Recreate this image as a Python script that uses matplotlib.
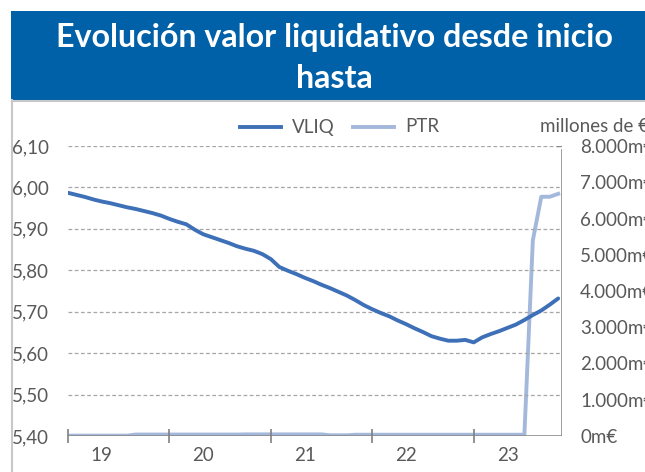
import numpy as np
import matplotlib.pyplot as plt
from matplotlib.patches import Rectangle
from matplotlib.lines import Line2D

# monthly values
vliq = [5.987, 5.982, 5.977, 5.971, 5.966, 5.962, 5.957, 5.952, 5.948, 5.943,
        5.938, 5.932, 5.924, 5.917, 5.911, 5.898, 5.887, 5.880, 5.873, 5.866,
        5.858, 5.852, 5.847, 5.839, 5.827, 5.808, 5.799, 5.791, 5.782, 5.774,
        5.765, 5.757, 5.748, 5.739, 5.728, 5.716, 5.706, 5.697, 5.689, 5.679,
        5.670, 5.660, 5.651, 5.641, 5.635, 5.630, 5.630, 5.632, 5.626, 5.638,
        5.646, 5.653, 5.661, 5.669, 5.680, 5.692, 5.703, 5.717, 5.732]
ptr = [10, 10, 10, 10, 10, 10, 10, 10, 40, 40,
       40, 40, 40, 40, 40, 40, 40, 40, 40, 40,
       40, 45, 45, 45, 45, 45, 45, 45, 45, 45,
       45, 20, 20, 20, 35, 35, 35, 35, 35, 35,
       35, 35, 35, 35, 35, 35, 35, 35, 35, 35,
       35, 35, 35, 35, 35, 5400, 6600, 6600, 6680]
years = ['19', '20', '21', '22', '23']
left_ticks = [5.40, 5.50, 5.60, 5.70, 5.80, 5.90, 6.00, 6.10]
right_ticks = [0, 1000, 2000, 3000, 4000, 5000, 6000, 7000, 8000]

months = np.arange(len(vliq))
grey = '#595959'
c_vliq = '#3E70B8'
c_ptr = '#A3B8DB'
fs = 13.5

plt.rcParams['font.family'] = ['Lato', 'DejaVu Sans']

fig = plt.figure(figsize=(6.45, 4.72), dpi=100)
W, H = 645, 472

# title banner and chart frame
fig.patches.append(Rectangle((11 / W, 1 - 100 / H), 1, 89 / H, transform=fig.transFigure,
                             facecolor='#0060A8', edgecolor='none'))
fig.add_artist(Line2D([11.5 / W, 11.5 / W], [0, 1 - 100 / H], transform=fig.transFigure,
                      color='#C8C8C8', lw=1.5))
fig.add_artist(Line2D([11.5 / W, 1], [1 - 101 / H, 1 - 101 / H], transform=fig.transFigure,
                      color='#C8C8C8', lw=1.5))
fig.text(334 / W, 1 - 37 / H, 'Evolución valor liquidativo desde inicio', color='white',
         fontsize=23.2, fontweight='bold', ha='center', va='center')
fig.text(334 / W, 1 - 78 / H, 'hasta', color='white',
         fontsize=23.2, fontweight='bold', ha='center', va='center')

ax = fig.add_axes([68 / W, 1 - 436 / H, (562 - 68) / W, (436 - 146) / H])
ax2 = ax.twinx()

ax.plot(months, vliq, color=c_vliq, lw=2.8, solid_capstyle='round', zorder=3)
ax2.plot(months, ptr, color=c_ptr, lw=2.8, zorder=2)
ax.set_zorder(ax2.get_zorder() + 1)
ax.patch.set_visible(False)

ax.set_xlim(0, 58.45)
ax.set_ylim(5.40, 6.10)
ax2.set_ylim(0, 8000)

for v in left_ticks[1:]:
    ax.axhline(v, color='#A6A6A6', lw=0.9, ls=(0, (3, 2)), zorder=1)

ax.set_yticks(left_ticks)
ax.set_yticklabels([('%.2f' % v).replace('.', ',') for v in left_ticks])
ax.tick_params(axis='y', length=0, labelsize=fs, labelcolor=grey, pad=14)

ax2.set_yticks(right_ticks)
ax2.set_yticklabels(['0m€'] + ['{:,}m€'.format(v).replace(',', '.') for v in right_ticks[1:]])
ax2.tick_params(axis='y', length=0, labelsize=fs, labelcolor=grey, pad=13)

ax.set_xticks([0, 12, 24, 36, 48])
ax.set_xticklabels([])
ax.set_xticks([4, 16, 28, 40, 52], minor=True)
ax.set_xticklabels(years, minor=True)
ax.tick_params(axis='x', which='major', length=10, direction='inout', color='#808080', width=1.2)
ax.tick_params(axis='x', which='minor', length=0, labelsize=fs, labelcolor=grey, pad=8)

for a in (ax, ax2):
    for s in a.spines.values():
        s.set_visible(False)
ax.axhline(5.40, color='#8C8C8C', lw=1.2, zorder=1)
ax.axvline(58.45, ymin=0, ymax=0.985, color='#8C8C8C', lw=1.2, zorder=1)
ax.plot([57.9, 58.45], [6.10, 6.10], color='#8C8C8C', lw=1.0)

# legend and unit label
fig.add_artist(Line2D([240 / W, 281 / W], [1 - 127 / H] * 2, transform=fig.transFigure,
                      color=c_vliq, lw=2.8))
fig.text(292 / W, 1 - 127 / H, 'VLIQ', color=grey, fontsize=fs, va='center')
fig.add_artist(Line2D([353 / W, 394 / W], [1 - 127 / H] * 2, transform=fig.transFigure,
                      color=c_ptr, lw=2.8))
fig.text(405 / W, 1 - 127 / H, 'PTR', color=grey, fontsize=fs, va='center')
fig.text(540 / W, 1 - 127 / H, 'millones de €', color=grey, fontsize=fs, va='center')

fig.savefig('out.png', dpi=100)
